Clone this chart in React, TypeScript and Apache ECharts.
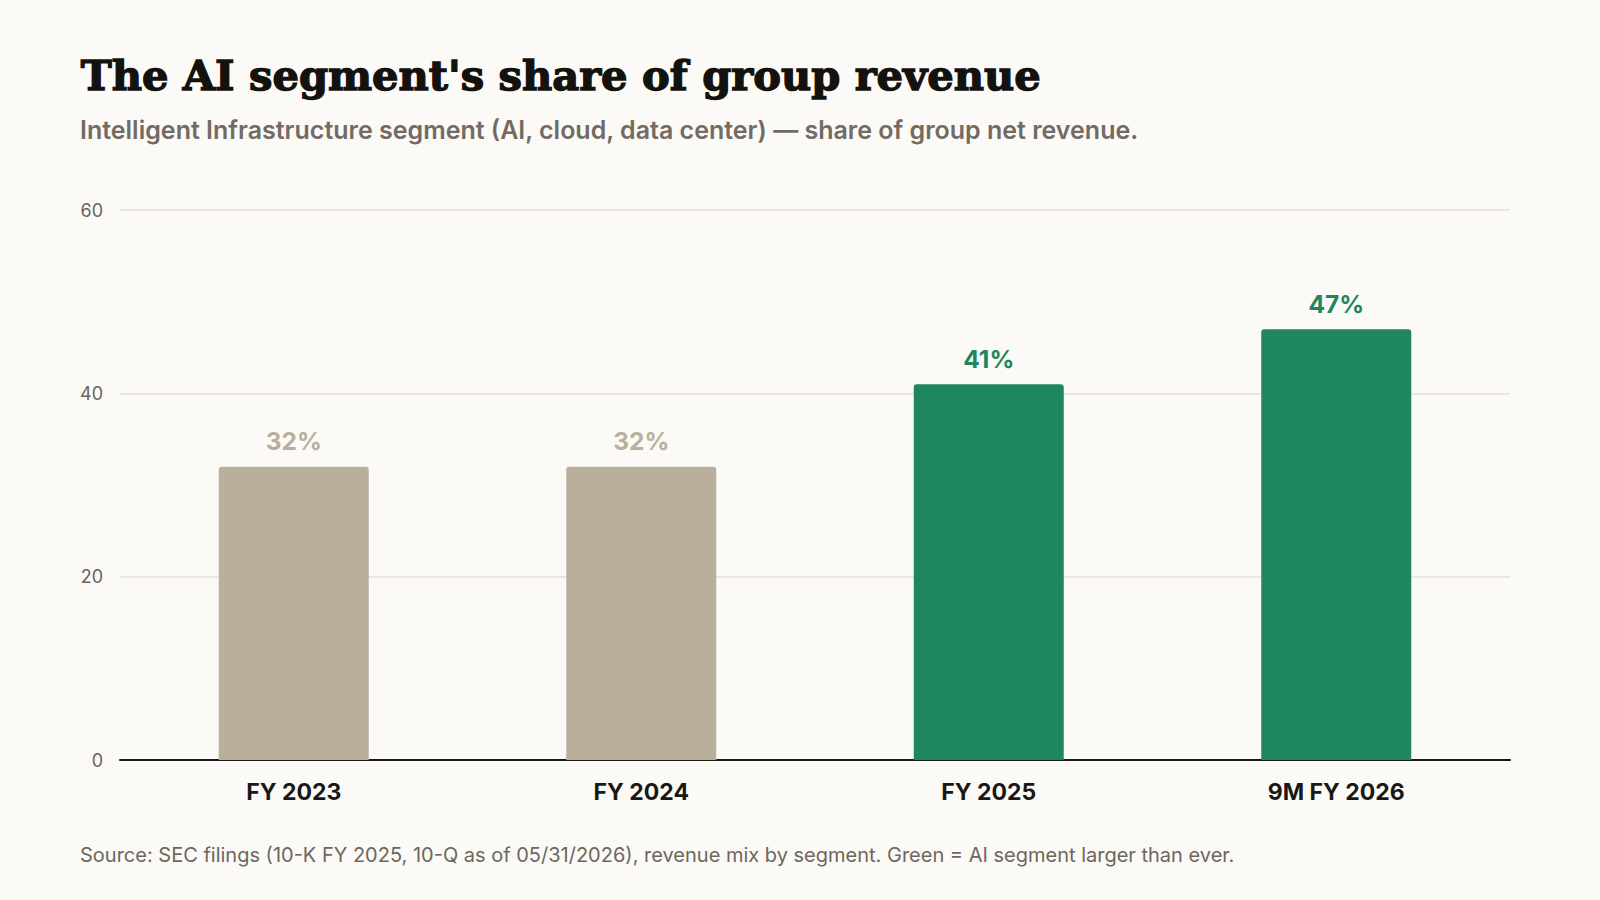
import React, { useEffect, useRef } from "react";
import * as echarts from "echarts";

const categories = ["FY 2023", "FY 2024", "FY 2025", "9M FY 2026"];
const shareValues = [32, 32, 41, 47];
const isRecord = [false, false, true, true];
const yTicks = { min: 0, max: 60, interval: 20 };

const titleText = "The AI segment's share of group revenue";
const subtitleText =
  "Intelligent Infrastructure segment (AI, cloud, data center) \u2014 share of group net revenue.";
const sourceText =
  "Source: SEC filings (10-K FY 2025, 10-Q as of 05/31/2026), revenue mix by segment. Green = AI segment larger than ever.";

const GREEN = "#1f8760";
const GREY = "#b9af9b";
const BG = "#fbfaf6";
const SANS = "Inter, 'Noto Sans', sans-serif";

export default function App() {
  const ref = useRef<HTMLDivElement>(null);

  useEffect(() => {
    document.body.style.margin = "0";
    document.body.style.background = BG;
    if (!ref.current) return;
    const chart = echarts.init(ref.current, undefined, { renderer: "svg" });

    const data = shareValues.map((v, i) => ({
      value: v,
      itemStyle: { color: isRecord[i] ? GREEN : GREY },
      label: { color: isRecord[i] ? GREEN : GREY },
    }));

    chart.setOption({
      animation: false,
      backgroundColor: BG,
      graphic: [
        {
          type: "text",
          left: 80,
          top: 54,
          style: {
            text: titleText,
            fontFamily: "'DejaVu Serif', serif",
            fontWeight: "bold",
            fontSize: 41.6,
            fill: "#14120e",
            stroke: "#14120e",
            lineWidth: 1.4,
          },
        },
        {
          type: "text",
          left: 80,
          top: 117,
          style: {
            text: subtitleText,
            fontFamily: SANS,
            fontWeight: 600,
            fontSize: 25,
            fill: "#736b63",
          },
        },
        {
          type: "text",
          left: 80,
          top: 845,
          style: {
            text: sourceText,
            fontFamily: SANS,
            fontWeight: 400,
            fontSize: 20,
            fill: "#6e665e",
          },
        },
      ],
      grid: { left: 120, right: 90, top: 210, bottom: 140, containLabel: false },
      xAxis: {
        type: "category",
        data: categories,
        axisTick: { show: false },
        axisLine: { show: true, lineStyle: { color: "#1a1815", width: 2 } },
        axisLabel: {
          margin: 20,
          fontFamily: SANS,
          fontSize: 23,
          fontWeight: 700,
          color: "#1a1815",
        },
      },
      yAxis: {
        type: "value",
        min: yTicks.min,
        max: yTicks.max,
        interval: yTicks.interval,
        axisLine: { show: false },
        axisTick: { show: false },
        splitLine: { lineStyle: { color: "#e7e1d6", width: 1.5 } },
        axisLabel: {
          margin: 17,
          fontFamily: SANS,
          fontSize: 18,
          color: "#6b635a",
        },
      },
      series: [
        {
          type: "bar",
          data,
          barWidth: 150,
          itemStyle: { borderRadius: [3, 3, 0, 0] },
          label: {
            show: true,
            position: "top",
            distance: 13,
            formatter: "{c}%",
            fontFamily: SANS,
            fontSize: 24.5,
            fontWeight: 700,
          },
        },
      ],
    });

    return () => chart.dispose();
  }, []);

  return <div ref={ref} style={{ width: 1600, height: 900, background: BG }} />;
}
